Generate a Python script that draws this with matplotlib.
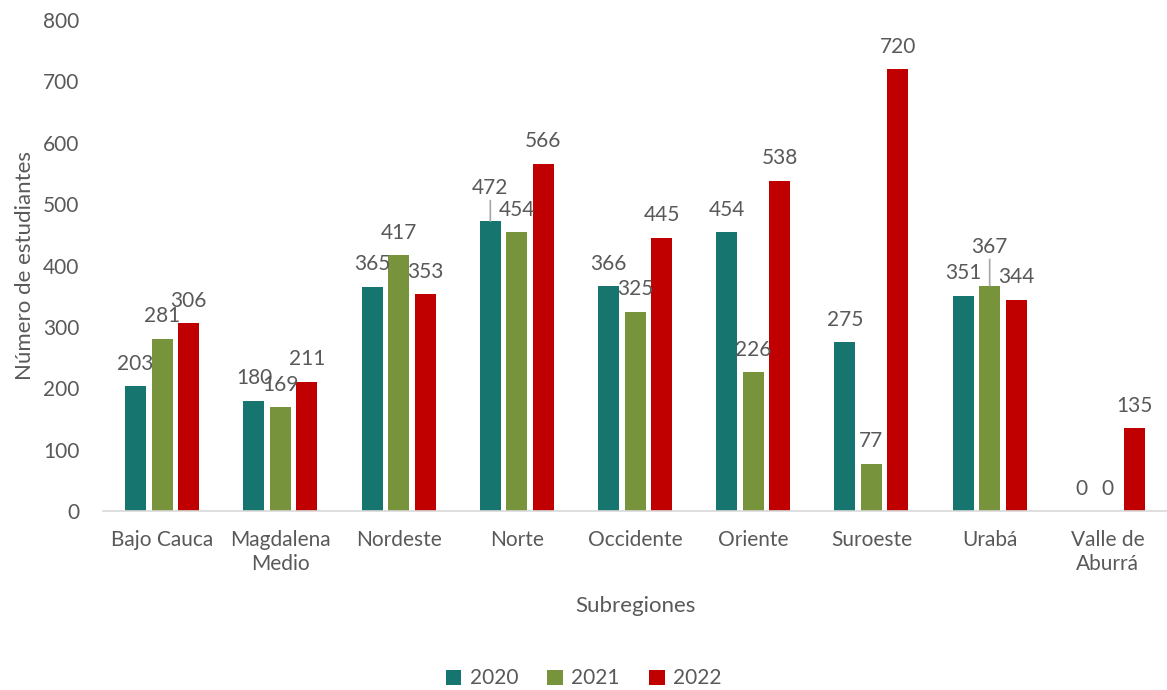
import matplotlib
matplotlib.use("Agg")
import matplotlib.pyplot as plt
import numpy as np

plt.rcParams["font.family"] = ["Lato", "DejaVu Sans"]

regions = ["Bajo Cauca", "Magdalena\nMedio", "Nordeste", "Norte", "Occidente",
           "Oriente", "Suroeste", "Urabá", "Valle de\nAburrá"]
years = ["2020", "2021", "2022"]
v2020 = [203, 180, 365, 472, 366, 454, 275, 351, 0]
v2021 = [281, 169, 417, 454, 325, 226, 77, 367, 0]
v2022 = [306, 211, 353, 566, 445, 538, 720, 344, 135]

colors = ["#17756F", "#77933C", "#C00000"]
text_color = "#595959"

# labels pushed up with a leader line (series index, region index): extra points
raised = {(0, 3): 8, (1, 7): 12}

fig = plt.figure(figsize=(11.67, 6.9), dpi=100)
ax = fig.add_axes([0.0883, 0.2594, 0.9117, 0.7116])

x = np.arange(len(regions))
width = 0.178
step = 0.224
series = [v2020, v2021, v2022]
for i, (vals, c, lab) in enumerate(zip(series, colors, years)):
    pos = x + (i - 1) * step
    ax.bar(pos, vals, width, color=c, label=lab)
    for j, (px, v) in enumerate(zip(pos, vals)):
        extra = raised.get((i, j), 0)
        if extra:
            ax.annotate(str(v), xy=(px, v), xytext=(0, 9 + extra),
                        textcoords="offset points", ha="center", va="bottom",
                        fontsize=15, color=text_color,
                        arrowprops=dict(arrowstyle="-", color="#a6a6a6",
                                        lw=1.2, shrinkA=0, shrinkB=0))
        else:
            ax.annotate(str(v), xy=(px, v), xytext=(0, 9),
                        textcoords="offset points", ha="center", va="bottom",
                        fontsize=15, color=text_color)

ax.set_ylim(0, 800)
ax.set_xlim(-0.5, len(regions) - 0.5)
ax.set_yticks(range(0, 801, 100))
ax.set_xticks(x)
ax.set_xticklabels(regions)
ax.tick_params(axis="both", length=0, labelsize=15, colors=text_color)
ax.tick_params(axis="y", pad=17)
ax.tick_params(axis="x", pad=14)
for s in ["top", "right", "left"]:
    ax.spines[s].set_visible(False)
ax.spines["bottom"].set_color("#d9d9d9")
ax.spines["bottom"].set_linewidth(1.2)

ax.set_ylabel("Número de estudiantes", fontsize=16, color=text_color, labelpad=6)
ax.set_xlabel("Subregiones", fontsize=16, color=text_color, labelpad=16)

fig.legend(loc="lower center", bbox_to_anchor=(0.5, -0.025), ncol=3, frameon=False,
           fontsize=15, labelcolor=text_color, handlelength=0.75, handleheight=0.75,
           columnspacing=1.4, handletextpad=0.4)

fig.savefig("out.png", dpi=100)
